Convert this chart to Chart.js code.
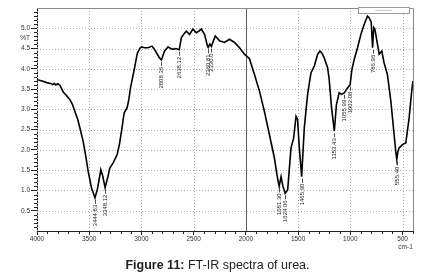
<!DOCTYPE html>
<html>
<head>
<meta charset="utf-8">
<script src="https://cdn.jsdelivr.net/npm/chart.js@4"></script>
<style>
    html, body { margin: 0; padding: 0; background: #fff; }
    #wrap { position: relative; width: 435px; height: 276px; }
    #caption {
        position: absolute; left: 0; top: 258px; width: 435px; text-align: center;
        font-family: "Liberation Sans", Arial, sans-serif; font-size: 12.5px; color: #222;
    }
</style>
</head>
<body>
<div id="wrap">
    <canvas id="irChart" width="435" height="276"></canvas>
    <div id="caption"><b>Figure 11:</b> FT-IR spectra of urea.</div>
</div>
<script>
// wavenumber (cm-1) and transmittance
const wavenumbers = [
    4000, 3950, 3907, 3870, 3850, 3835, 3820, 3800, 3780, 3749, 3720, 3685, 3660, 3637, 3610, 3589, 3558, 3530, 3510, 3478,
    3444.83, 3420, 3389, 3370, 3348.12, 3320, 3303, 3271, 3233, 3210, 3191, 3166, 3137, 3120, 3105, 3085, 3064, 3040, 3016, 3000,
    2970, 2937, 2899, 2870, 2857, 2830, 2808.36, 2790, 2778, 2746, 2720, 2698, 2670, 2638.12, 2618, 2595, 2570, 2539, 2507, 2475,
    2450, 2427, 2396, 2370, 2360.81, 2345, 2330.0, 2310, 2293, 2252, 2205, 2157, 2109, 2061, 2014, 1966, 1918, 1870, 1823, 1775,
    1727, 1700, 1681.30, 1663, 1645, 1624.06, 1600, 1585, 1568, 1543, 1520, 1505, 1490, 1465.90, 1441, 1409, 1377, 1345, 1313, 1291,
    1270, 1250, 1218, 1204, 1180, 1153.43, 1133, 1107, 1082, 1055.99, 1037, 1020, 1002.08, 985, 963, 931, 899, 867, 836, 820,
    800, 786.96, 776, 765, 740, 724, 699, 677, 645, 612, 581, 565, 555.40, 545, 533, 501, 469, 437, 411, 400
];
const transmittance = [
    3.73, 3.70, 3.66, 3.64, 3.61, 3.64, 3.60, 3.63, 3.59, 3.43, 3.35, 3.24, 3.12, 2.95, 2.75, 2.54, 2.21, 1.80, 1.47, 1.06,
    0.82, 1.05, 1.51, 1.35, 1.07, 1.35, 1.55, 1.68, 1.88, 2.15, 2.46, 2.91, 3.04, 3.25, 3.53, 3.78, 4.05, 4.38, 4.50, 4.54,
    4.52, 4.52, 4.56, 4.46, 4.40, 4.28, 4.22, 4.36, 4.44, 4.54, 4.50, 4.48, 4.50, 4.47, 4.77, 4.85, 4.93, 4.85, 4.98, 4.89,
    4.93, 4.98, 4.85, 4.58, 4.53, 4.61, 4.55, 4.70, 4.81, 4.69, 4.65, 4.73, 4.65, 4.52, 4.36, 4.25, 3.86, 3.45, 2.95, 2.38,
    1.80, 1.35, 1.10, 1.34, 1.10, 0.93, 1.01, 1.50, 2.05, 2.29, 2.83, 2.75, 2.10, 1.34, 2.54, 3.37, 3.90, 4.07, 4.36, 4.44,
    4.38, 4.27, 4.03, 3.78, 3.05, 2.46, 3.12, 3.41, 3.37, 3.41, 3.49, 3.55, 3.61, 3.98, 4.23, 4.52, 4.85, 5.10, 5.30, 5.26,
    5.15, 4.52, 5.02, 4.98, 4.60, 4.36, 4.44, 4.15, 3.86, 3.20, 2.38, 1.96, 1.76, 1.95, 2.05, 2.13, 2.17, 2.79, 3.49, 3.70
];

const xTickValues = [4000, 3500, 3000, 2500, 2000, 1500, 1000, 500];
const yTickValues = [0.5, 1.0, 1.5, 2.0, 2.5, 3.0, 3.5, 4.0, 4.5, 5.0];

const peakWavenumbers = [3444.83, 3348.12, 2808.36, 2638.12, 2360.81, 2330.0, 1681.30, 1624.06, 1465.90, 1153.43, 1055.99, 1002.08, 786.96, 555.40];
const peakLabels = ['3444.83', '3348.12', '2808.36', '2638.12', '2360.81', '2330.0', '1681.30', '1624.06', '1465.90', '1153.43', '1055.99', '1002.08', '786.96', '555.40'];

const FONT = '"Liberation Sans", Arial, sans-serif';

// dotted grid, solid line at 2000, frame and minor ticks
const gridPlugin = {
    id: 'irGrid',
    beforeDatasetsDraw(chart) {
        const { ctx, chartArea: a, scales: { x, y } } = chart;
        ctx.save();
        ctx.lineWidth = 1;
        xTickValues.forEach(v => {
            const px = Math.round(x.getPixelForValue(v)) + 0.5;
            ctx.beginPath();
            if (v === 2000) {
                ctx.setLineDash([]);
                ctx.strokeStyle = '#5f5f5f';
            } else {
                ctx.setLineDash([1, 2]);
                ctx.strokeStyle = '#b0b0b0';
            }
            ctx.moveTo(px, a.top);
            ctx.lineTo(px, a.bottom);
            ctx.stroke();
        });
        ctx.setLineDash([1, 2]);
        ctx.strokeStyle = '#b0b0b0';
        yTickValues.forEach(v => {
            const py = Math.round(y.getPixelForValue(v)) + 0.5;
            ctx.beginPath();
            ctx.moveTo(a.left, py);
            ctx.lineTo(a.right, py);
            ctx.stroke();
        });
        // frame top and right
        ctx.setLineDash([]);
        ctx.strokeStyle = '#8a8a8a';
        ctx.beginPath();
        ctx.moveTo(a.left, a.top + 0.5);
        ctx.lineTo(a.right + 0.5, a.top + 0.5);
        ctx.lineTo(a.right + 0.5, a.bottom);
        ctx.stroke();
        // little box at top right
        ctx.fillStyle = '#fff';
        ctx.fillRect(a.right - 55, a.top - 1, 51, 6);
        ctx.strokeStyle = '#999';
        ctx.strokeRect(a.right - 54.5, a.top - 0.5, 51, 6);
        ctx.beginPath();
        ctx.moveTo(a.right - 37.5, a.top + 2.5);
        ctx.lineTo(a.right - 20.5, a.top + 2.5);
        ctx.strokeStyle = '#ccc';
        ctx.stroke();

        // minor ticks
        ctx.strokeStyle = '#222';
        ctx.beginPath();
        for (let v = 0.1; v < 5.5; v += 0.1) {
            const r = Math.round(v * 10) / 10;
            if (Math.abs(r * 2 - Math.round(r * 2)) < 1e-6) continue;
            const py = Math.round(y.getPixelForValue(r)) + 0.5;
            ctx.moveTo(a.left - 3, py);
            ctx.lineTo(a.left, py);
        }
        for (let v = 400; v <= 4000; v += 100) {
            if (v % 500 === 0) continue;
            const px = Math.round(x.getPixelForValue(v)) + 0.5;
            ctx.moveTo(px, a.bottom);
            ctx.lineTo(px, a.bottom + 3);
        }
        ctx.stroke();

        // axis captions
        ctx.fillStyle = '#333';
        ctx.font = '6.5px ' + FONT;
        ctx.textAlign = 'right';
        ctx.textBaseline = 'middle';
        ctx.fillText('%T', a.left - 7, y.getPixelForValue(4.75));
        ctx.textAlign = 'center';
        ctx.fillText('cm-1', x.getPixelForValue(500) + 3, a.bottom + 16);
        ctx.restore();
    }
};

// vertical peak labels below the dips
const peakPlugin = {
    id: 'irPeaks',
    afterDatasetsDraw(chart) {
        const { ctx } = chart;
        const meta = chart.getDatasetMeta(0);
        ctx.save();
        ctx.font = '6px ' + FONT;
        ctx.fillStyle = '#222';
        ctx.strokeStyle = '#222';
        ctx.lineWidth = 0.8;
        peakWavenumbers.forEach((wn, k) => {
            const i = wavenumbers.indexOf(wn);
            if (i < 0) return;
            const pt = meta.data[i];
            const px = Math.round(pt.x) + 0.5;
            ctx.beginPath();
            ctx.moveTo(px, pt.y + 2);
            ctx.lineTo(px, pt.y + 6);
            ctx.stroke();
            ctx.save();
            ctx.translate(px, pt.y + 7);
            ctx.rotate(-Math.PI / 2);
            ctx.textAlign = 'right';
            ctx.textBaseline = 'middle';
            ctx.fillText(peakLabels[k], 0, 0);
            ctx.restore();
        });
        ctx.restore();
    }
};

const points = wavenumbers.map((wn, i) => ({ x: wn, y: transmittance[i] }));

new Chart(document.getElementById('irChart'), {
    type: 'line',
    data: {
        datasets: [{
            data: points,
            borderColor: '#000',
            borderWidth: 1.6,
            pointRadius: 0,
            tension: 0,
            fill: false
        }]
    },
    options: {
        responsive: false,
        animation: false,
        layout: { padding: { top: 8, right: 22, bottom: 31, left: 0 } },
        plugins: {
            legend: { display: false },
            tooltip: { enabled: false }
        },
        scales: {
            x: {
                type: 'linear',
                reverse: true,
                min: 400,
                max: 4000,
                afterBuildTicks: scale => { scale.ticks = xTickValues.map(v => ({ value: v })); },
                afterFit: scale => { scale.height = 14; },
                grid: { drawOnChartArea: false, drawTicks: true, tickLength: 4, color: '#222' },
                border: { color: '#222', width: 1 },
                ticks: {
                    padding: 0,
                    maxRotation: 0,
                    autoSkip: false,
                    color: '#333',
                    font: { family: FONT, size: 6.5 },
                    callback: v => String(v)
                }
            },
            y: {
                min: 0,
                max: 5.5,
                afterBuildTicks: scale => { scale.ticks = yTickValues.map(v => ({ value: v })); },
                afterFit: scale => { scale.width = 37; },
                grid: { drawOnChartArea: false, drawTicks: true, tickLength: 6, color: '#222' },
                border: { color: '#222', width: 1 },
                ticks: {
                    padding: 1,
                    autoSkip: false,
                    color: '#333',
                    font: { family: FONT, size: 6.5 },
                    callback: v => Number(v).toFixed(1)
                }
            }
        }
    },
    plugins: [gridPlugin, peakPlugin]
});
</script>
</body>
</html>
